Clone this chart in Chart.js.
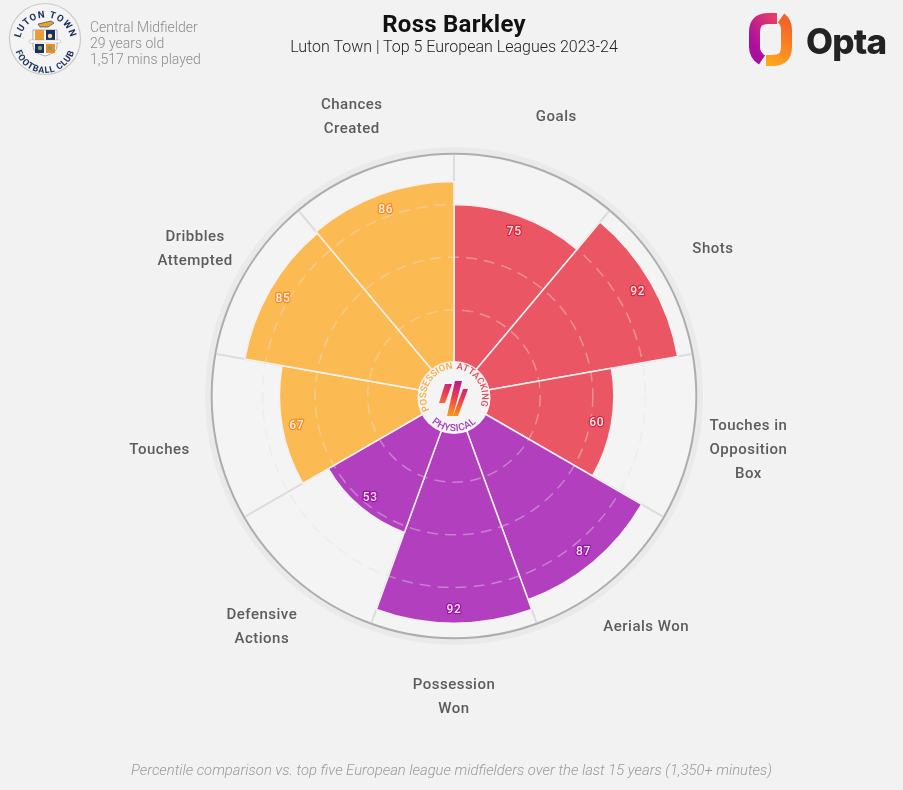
<!DOCTYPE html>
<html>
<head>
<meta charset="utf-8">
<title>Ross Barkley</title>
<script src="https://cdn.jsdelivr.net/npm/chart.js@4"></script>
<style>
  html, body { margin: 0; padding: 0; background: #f2f2f2; }
  #page { position: relative; width: 903px; height: 790px; overflow: hidden; font-family: Roboto, sans-serif; }
  #page canvas { position: absolute; left: 0; top: 0; }
  #overlay { position: absolute; left: 0; top: 0; }
  .txt { position: absolute; white-space: nowrap; }
  #title { left: 0; width: 908px; top: 10px; text-align: center; font-size: 24px; font-weight: 700; color: #111; letter-spacing: .25px; }
  #subtitle { left: 0; width: 908px; top: 37px; text-align: center; font-size: 16px; font-weight: 300; color: #222; }
  #info { left: 90px; top: 19px; font-size: 14px; font-weight: 300; color: #8c8c8c; line-height: 16px; }
  #footer { left: 0; width: 903px; top: 761px; text-align: center; font-size: 14.8px; font-weight: 300; font-style: italic; color: #9a9a9a; }
</style>
</head>
<body>
<div id="page">
  <canvas id="polar" width="903" height="790"></canvas>
  <svg id="overlay" width="903" height="790">
    <defs>
      <linearGradient id="optaL" gradientUnits="userSpaceOnUse" x1="750" y1="40" x2="780" y2="20">
        <stop offset="0" stop-color="#a9109f"/><stop offset="1" stop-color="#ee3f63"/>
      </linearGradient>
      <linearGradient id="optaR" gradientUnits="userSpaceOnUse" x1="768" y1="62" x2="790" y2="25">
        <stop offset="0" stop-color="#ffa51c"/><stop offset="1" stop-color="#f2652a"/>
      </linearGradient>
      <linearGradient id="midLogo" gradientUnits="userSpaceOnUse" x1="460" y1="380" x2="448" y2="415">
        <stop offset="0" stop-color="#b0189a"/><stop offset=".45" stop-color="#ea3a50"/><stop offset="1" stop-color="#fb9a1e"/>
      </linearGradient>
      <path id="arcAtt" d="M 456.4 369.1 A 28 28 0 0 1 476.9 413.1"/>
      <path id="arcPos" d="M 429.3 410.1 A 28 28 0 0 1 453 369"/>
      <path id="arcPhy" d="M 427.7 418.2 A 33 33 0 0 0 480.3 418.2"/>
      <path id="crestTop" d="M 20 43 A 25 25 0 1 1 71 43"/>
      <path id="crestBot" d="M 14 42 A 31 31 0 0 0 76 42"/>
    </defs>

    <!-- club crest -->
    <circle cx="45" cy="39" r="35.5" fill="#f4f4f4" stroke="#c9c9c9" stroke-width="1.2"/>
    <text font-family="Roboto" font-weight="700" font-size="9.5" fill="#1b2f5e" letter-spacing="1"><textPath href="#crestTop" startOffset="50%" text-anchor="middle">LUTON TOWN</textPath></text>
    <text font-family="Roboto" font-weight="700" font-size="9" fill="#1b2f5e" letter-spacing=".7"><textPath href="#crestBot" startOffset="50%" text-anchor="middle">FOOTBALL CLUB</textPath></text>
    <path d="M 38 24 L 51 21 L 54 23 L 48 27 L 40 27 Z" fill="#e3a52a" stroke="#1b2f5e" stroke-width=".6"/>
    <path d="M 33 30 H 57 V 46 Q 57 53 45 56 Q 33 53 33 46 Z" fill="#fff" stroke="#777" stroke-width=".6"/>
    <rect x="35" y="30" width="9" height="11" fill="#ee9a35"/>
    <rect x="46" y="30" width="9" height="11" fill="#1b2f5e"/>
    <rect x="35" y="44" width="9" height="9" fill="#1b2f5e"/>
    <rect x="46" y="44" width="9" height="9" fill="#ee8a25"/>
    <circle cx="50" cy="36" r="2.2" fill="#f1d9a0"/><circle cx="40" cy="48" r="2.2" fill="#7fa35a"/><circle cx="50" cy="48" r="2.2" fill="#7fa35a"/>
    <rect x="29" y="40" width="32" height="3" rx="1.5" fill="#fff" stroke="#888" stroke-width=".4"/>

    <!-- opta mark -->
    <path d="M 777 18.5 L 768 18.5 Q 754.5 18.5 754.5 32 L 754.5 47 Q 754.5 55 762 60" fill="none" stroke="url(#optaL)" stroke-width="11"/>
    <path d="M 781 18 Q 786.5 22 786.5 30 L 786.5 47 Q 786.5 60.5 773 60.5 L 766 60.5" fill="none" stroke="url(#optaR)" stroke-width="11"/>
    <text x="806" y="54" font-family="Inter" font-weight="800" font-size="35" fill="#222" letter-spacing="-.8">Opta</text>

    <!-- centre badge -->
    <g font-family="Roboto" font-size="9.4" font-weight="500">
      <text fill="#e84a5c"><textPath href="#arcAtt">ATTACKING</textPath></text>
      <text fill="#f6ac44"><textPath href="#arcPos">POSSESSION</textPath></text>
      <text fill="#a83cc0" font-size="10" letter-spacing=".3"><textPath href="#arcPhy" startOffset="50%" text-anchor="middle">PHYSICAL</textPath></text>
    </g>
    <path d="M 445 384 H 452 L 445 403 H 439 Z M 455 381 H 462 L 453 416 H 447 Z M 463 389 H 468 L 458 416 H 453 Z" fill="url(#midLogo)"/>
  </svg>
  <div class="txt" id="title">Ross Barkley</div>
  <div class="txt" id="subtitle">Luton Town | Top 5 European Leagues 2023-24</div>
  <div class="txt" id="info">Central Midfielder<br>29 years old<br>1,517 mins played</div>
  <div class="txt" id="footer">Percentile comparison vs. top five European league midfielders over the last 15 years (1,350+ minutes)</div>
</div>

<script>
const categories = [
  ['Goals'], ['Shots'], ['Touches in', 'Opposition', 'Box'], ['Aerials Won'], ['Possession', 'Won'],
  ['Defensive', 'Actions'], ['Touches'], ['Dribbles', 'Attempted'], ['Chances', 'Created']
];
const percentiles = [75, 92, 60, 87, 92, 53, 67, 85, 86];
const groups = ['attacking', 'attacking', 'attacking', 'physical', 'physical', 'physical', 'possession', 'possession', 'possession'];
const gridValues = [25, 50, 75];

const fillColours = { attacking: '#eb5664', physical: '#b13fbe', possession: '#fbbb52' };
const edgeColours = { attacking: '#e0243c', physical: '#a010b0', possession: '#f88a1e' };

// rings, spokes and the labels all go through the radial scale
const polarExtras = {
  id: 'polarExtras',
  beforeDatasetsDraw(chart) {
    const r = chart.scales.r, ctx = chart.ctx;
    const outer = r.getDistanceFromCenterForValue(99.2);
    ctx.save();
    ctx.beginPath();
    ctx.arc(r.xCenter, r.yCenter, outer + 3, 0, Math.PI * 2);
    ctx.strokeStyle = '#eaeaea';
    ctx.lineWidth = 7;
    ctx.stroke();
    ctx.beginPath();
    ctx.arc(r.xCenter, r.yCenter, outer, 0, Math.PI * 2);
    ctx.fillStyle = '#f4f4f4';
    ctx.fill();
    ctx.strokeStyle = '#adadad';
    ctx.lineWidth = 2;
    ctx.stroke();
    categories.forEach((c, i) => {
      const p = r.getPointPosition(i, outer - 1);
      ctx.beginPath();
      ctx.moveTo(r.xCenter, r.yCenter);
      ctx.lineTo(p.x, p.y);
      ctx.strokeStyle = '#dcdcdc';
      ctx.lineWidth = 2;
      ctx.stroke();
    });
    ctx.restore();
  },
  afterDraw(chart) {
    const r = chart.scales.r, ctx = chart.ctx;
    ctx.save();
    // centre disc
    ctx.beginPath();
    ctx.arc(r.xCenter, r.yCenter + 1.5, 36.5, 0, Math.PI * 2);
    ctx.fillStyle = '#f4f4f4';
    ctx.fill();
    ctx.textAlign = 'center';
    ctx.textBaseline = 'middle';
    // value labels just inside the slice edge
    ctx.font = '500 12px Roboto';
    ctx.letterSpacing = '0.7px';
    ctx.lineJoin = 'round';
    percentiles.forEach((v, i) => {
      const p = r.getPointPosition(i + 0.5, r.getDistanceFromCenterForValue(v) - 15);
      ctx.strokeStyle = edgeColours[groups[i]];
      ctx.lineWidth = 2.5;
      ctx.strokeText(v, p.x, p.y + 2);
      ctx.fillStyle = '#fbeeee';
      ctx.fillText(v, p.x, p.y + 2);
    });
    // category labels
    ctx.font = '500 15px Roboto';
    ctx.letterSpacing = '0.5px';
    ctx.fillStyle = '#5c5c5c';
    categories.forEach((lines, i) => {
      const p = r.getPointPosition(i + 0.5, 299);
      lines.forEach((line, j) => {
        ctx.fillText(line, p.x, p.y + 2.5 + (j - (lines.length - 1) / 2) * 24);
      });
    });
    ctx.restore();
  }
};

new Chart(document.getElementById('polar'), {
  type: 'polarArea',
  data: {
    labels: categories,
    datasets: [{
      data: percentiles,
      backgroundColor: groups.map(g => fillColours[g]),
      borderColor: '#f2f2f2',
      borderWidth: 1.5
    }]
  },
  options: {
    responsive: false,
    animation: false,
    layout: { padding: { left: 210, right: 205, top: 152, bottom: 150 } },
    plugins: { legend: { display: false }, tooltip: { enabled: false } },
    scales: {
      r: {
        min: -16,
        max: 100,
        afterBuildTicks: s => { s.ticks = [-16].concat(gridValues).map(v => ({ value: v })); },
        ticks: { display: false },
        pointLabels: { display: false },
        angleLines: { display: false },
        grid: {
          z: 1,
          circular: true,
          lineWidth: 1.5,
          color: c => gridValues.includes(c.tick.value) ? 'rgba(226,226,226,0.42)' : 'transparent'
        },
        border: { dash: [11, 7] }
      }
    }
  },
  plugins: [polarExtras]
});
</script>
</body>
</html>
